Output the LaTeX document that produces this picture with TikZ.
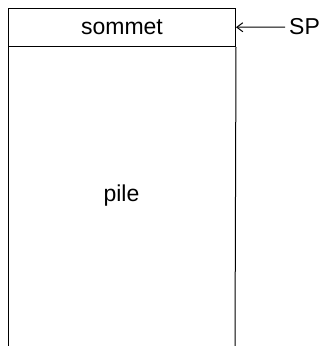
\documentclass[tikz,border=0pt]{standalone}
\usepackage{fontspec}
\setmainfont{Liberation Sans}
\usetikzlibrary{arrows.meta}
\begin{document}
\begin{tikzpicture}[x=1pt,y=-1pt,
  lbl/.style={font=\fontsize{23}{26}\selectfont, inner sep=0pt},
  boxline/.style={draw=black, line width=1pt}]
\useasboundingbox (0,0) rectangle (329,346);
\node[boxline, minimum width=227pt, minimum height=38.5pt, inner sep=0pt, anchor=north west] (sommet) at (8,7.5) {};
\node[lbl] (stxt) at (sommet.center) {sommet};
\coordinate (bl) at (8,346);
\coordinate (br) at (235,346);
\draw[boxline] (sommet.south west) -- (bl);
\draw[boxline] (sommet.south east) -- (br);
\node[lbl] (pile) at (121.5,196) {pile};
\node[lbl, anchor=west] (sp) at (289,27) {SP};
\draw[line width=1pt, -{Straight Barb[length=6pt,width=9pt]}] (sp.west) ++(-4,0) coordinate (spa) (spa) -- (sommet.east);
\end{tikzpicture}
\end{document}
